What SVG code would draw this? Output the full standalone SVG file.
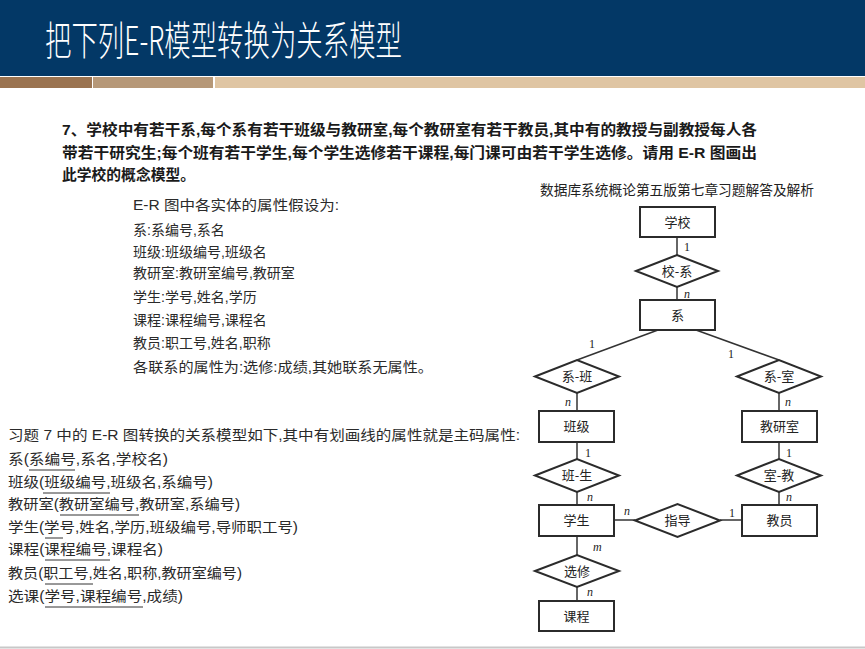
<svg xmlns="http://www.w3.org/2000/svg" width="865" height="649" viewBox="0 0 865 649">
<style>
text{font-family:"Liberation Sans","Noto Sans CJK SC",sans-serif;}
.title{fill:#fff;font-size:40px;font-weight:300;font-family:"Noto Sans CJK SC",sans-serif;}
.q{fill:#1a1a1a;font-size:15px;font-weight:bold;}
.t{fill:#2a2a2a;font-size:14px;}
.cap{fill:#222;font-size:14px;}
.ent{fill:#fff;stroke:#2b2b2b;stroke-width:2;}
.rel{fill:#fff;stroke:#2b2b2b;stroke-width:2;}
.lbl{fill:#222;font-size:13px;text-anchor:middle;font-family:"Noto Sans CJK SC",sans-serif;}
.card{fill:#222;font-size:12px;font-family:"Liberation Serif",serif;}
.ci{font-style:italic;}
.ln{stroke:#333;stroke-width:1.5;fill:none;}
.ul{stroke:#333;stroke-width:1;}
</style>
<rect x="0" y="0" width="865" height="649" fill="#fff"/>
<rect x="0" y="0" width="865" height="76" fill="#033866"/>
<rect x="0" y="77" width="92" height="11" fill="#9a7350"/>
<rect x="93" y="77" width="120" height="11" fill="#b69878"/>
<rect x="215" y="77" width="650" height="11" fill="#dfc5a3"/>
<text class="title" x="45" y="55" textLength="357" lengthAdjust="spacingAndGlyphs">把下列E-R模型转换为关系模型</text>

<text class="q" x="62" y="135" textLength="695" lengthAdjust="spacingAndGlyphs">7、学校中有若干系,每个系有若干班级与教研室,每个教研室有若干教员,其中有的教授与副教授每人各</text>
<text class="q" x="62" y="158" textLength="695" lengthAdjust="spacingAndGlyphs">带若干研究生;每个班有若干学生,每个学生选修若干课程,每门课可由若干学生选修。请用 E-R 图画出</text>
<text class="q" x="62" y="180" textLength="133" lengthAdjust="spacingAndGlyphs">此学校的概念模型。</text>

<g id="attrs">
<text class="t" x="133" y="210" textLength="206" lengthAdjust="spacingAndGlyphs">E-R 图中各实体的属性假设为:</text>
<text class="t" x="133" y="235">系:系编号,系名</text>
<text class="t" x="133" y="257">班级:班级编号,班级名</text>
<text class="t" x="133" y="278">教研室:教研室编号,教研室</text>
<text class="t" x="133" y="302">学生:学号,姓名,学历</text>
<text class="t" x="133" y="325">课程:课程编号,课程名</text>
<text class="t" x="133" y="348">教员:职工号,姓名,职称</text>
<text class="t" x="133" y="372" textLength="300" lengthAdjust="spacingAndGlyphs">各联系的属性为:选修:成绩,其她联系无属性。</text>
</g>

<g id="relmodel">
<text class="t" x="8" y="440" textLength="512" lengthAdjust="spacingAndGlyphs">习题 7 中的 E-R 图转换的关系模型如下,其中有划画线的属性就是主码属性:</text>
<text class="t" x="8" y="464" textLength="160" lengthAdjust="spacingAndGlyphs">系(系编号,系名,学校名)</text>
<text class="t" x="8" y="487" textLength="205" lengthAdjust="spacingAndGlyphs">班级(班级编号,班级名,系编号)</text>
<text class="t" x="8" y="509" textLength="232" lengthAdjust="spacingAndGlyphs">教研室(教研室编号,教研室,系编号)</text>
<text class="t" x="8" y="532" textLength="290" lengthAdjust="spacingAndGlyphs">学生(学号,姓名,学历,班级编号,导师职工号)</text>
<text class="t" x="8" y="554" textLength="155" lengthAdjust="spacingAndGlyphs">课程(课程编号,课程名)</text>
<text class="t" x="8" y="578" textLength="234" lengthAdjust="spacingAndGlyphs">教员(职工号,姓名,职称,教研室编号)</text>
<text class="t" x="8" y="601" textLength="175" lengthAdjust="spacingAndGlyphs">选课(学号,课程编号,成绩)</text>
<line class="ul" x1="29" y1="470" x2="75" y2="470"/>
<line class="ul" x1="43" y1="493" x2="110" y2="493"/>
<line class="ul" x1="60" y1="515" x2="139" y2="515"/>
<line class="ul" x1="45" y1="538" x2="63" y2="538"/>
<line class="ul" x1="45" y1="560" x2="110" y2="560"/>
<line class="ul" x1="45" y1="584" x2="93" y2="584"/>
<line class="ul" x1="45" y1="607" x2="143" y2="607"/>
</g>

<text class="cap" x="540" y="195" textLength="274" lengthAdjust="spacingAndGlyphs">数据库系统概论第五版第七章习题解答及解析</text>

<g id="connectors">
<line class="ln" x1="677" y1="237" x2="677" y2="255"/>
<line class="ln" x1="677" y1="287" x2="677" y2="300"/>
<line class="ln" x1="658" y1="330" x2="577" y2="360"/>
<line class="ln" x1="696" y1="330" x2="779" y2="360"/>
<line class="ln" x1="577" y1="393" x2="577" y2="411"/>
<line class="ln" x1="779" y1="393" x2="779" y2="411"/>
<line class="ln" x1="577" y1="442" x2="577" y2="459"/>
<line class="ln" x1="779" y1="442" x2="779" y2="459"/>
<line class="ln" x1="577" y1="492" x2="577" y2="505"/>
<line class="ln" x1="779" y1="492" x2="779" y2="505"/>
<line class="ln" x1="614" y1="520" x2="635" y2="520"/>
<line class="ln" x1="720" y1="520" x2="742" y2="520"/>
<line class="ln" x1="577" y1="536" x2="577" y2="555"/>
<line class="ln" x1="577" y1="587" x2="577" y2="601"/>
<text class="card" x="684" y="251">1</text>
<text class="card ci" x="684" y="298">n</text>
<text class="card" x="589" y="348">1</text>
<text class="card" x="728" y="358">1</text>
<text class="card ci" x="565" y="406">n</text>
<text class="card ci" x="785" y="406">n</text>
<text class="card" x="585" y="457">1</text>
<text class="card" x="786" y="457">1</text>
<text class="card ci" x="587" y="501">n</text>
<text class="card ci" x="786" y="501">n</text>
<text class="card ci" x="624" y="515">n</text>
<text class="card" x="729" y="517">1</text>
<text class="card ci" x="593" y="551">m</text>
<text class="card ci" x="587" y="596">n</text>
</g>

<g id="school"><rect class="ent" x="640" y="207" width="75" height="30"/><text class="lbl" x="677.5" y="227">学校</text></g>
<g id="xiaoxi"><polygon class="rel" points="636,271 677,255 718,271 677,287"/><text class="lbl" x="677" y="276">校-系</text></g>
<g id="dept"><rect class="ent" x="640" y="300" width="75" height="30"/><text class="lbl" x="677.5" y="320">系</text></g>
<g id="xiban"><polygon class="rel" points="535,376.5 577,360 619,376.5 577,393"/><text class="lbl" x="577" y="381">系-班</text></g>
<g id="xishi"><polygon class="rel" points="737,376.5 779,360 821,376.5 779,393"/><text class="lbl" x="779" y="381">系-室</text></g>
<g id="class"><rect class="ent" x="539" y="411" width="75" height="31"/><text class="lbl" x="576.5" y="431">班级</text></g>
<g id="office"><rect class="ent" x="742" y="411" width="75" height="31"/><text class="lbl" x="779.5" y="431">教研室</text></g>
<g id="bansheng"><polygon class="rel" points="535,475.5 577,459 619,475.5 577,492"/><text class="lbl" x="577" y="480">班-生</text></g>
<g id="shijiao"><polygon class="rel" points="737,475.5 779,459 821,475.5 779,492"/><text class="lbl" x="779" y="480">室-教</text></g>
<g id="student"><rect class="ent" x="539" y="505" width="75" height="31"/><text class="lbl" x="576.5" y="525">学生</text></g>
<g id="teacher"><rect class="ent" x="742" y="505" width="75" height="31"/><text class="lbl" x="779.5" y="525">教员</text></g>
<g id="zhidao"><polygon class="rel" points="635,520.5 677.5,504 720,520.5 677.5,537"/><text class="lbl" x="677.5" y="525">指导</text></g>
<g id="xuanxiu"><polygon class="rel" points="535,571 577,555 619,571 577,587"/><text class="lbl" x="577" y="576">选修</text></g>
<g id="course"><rect class="ent" x="539" y="601" width="75" height="30"/><text class="lbl" x="576.5" y="621">课程</text></g>

<line x1="0" y1="647.5" x2="865" y2="647.5" stroke="#c8c8c8" stroke-width="2"/>
</svg>
